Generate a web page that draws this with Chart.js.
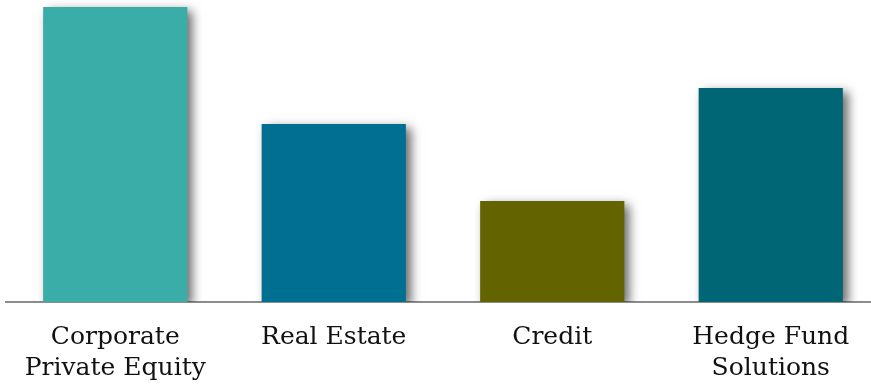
<!DOCTYPE html>
<html>
<head>
<meta charset="utf-8">
<script src="https://cdn.jsdelivr.net/npm/chart.js@4/dist/chart.umd.min.js"></script>
<style>
  html, body { margin: 0; padding: 0; background: #fff; overflow: hidden; }
  #wrap { position: relative; width: 880px; height: 388px; }
</style>
</head>
<body>
<div id="wrap"><canvas id="strategyChart"></canvas></div>
<script>
const categories = [
  ["Corporate", "Private Equity"],
  ["Real Estate"],
  ["Credit"],
  ["Hedge Fund", "Solutions"]
];
const values = [29.5, 17.8, 10.1, 21.4];
const barColors = ["#3aada9", "#006f92", "#636300", "#006675"];

// soft drop shadow behind the bars
const barShadow = {
  id: "barShadow",
  beforeDatasetsDraw(chart) {
    const ctx = chart.ctx;
    ctx.save();
    ctx.shadowColor = "rgba(0, 0, 0, 0.6)";
    ctx.shadowBlur = 10;
    ctx.shadowOffsetX = 5;
    ctx.shadowOffsetY = 4;
  },
  afterDatasetsDraw(chart) {
    chart.ctx.restore();
  }
};

const ctx = document.getElementById("strategyChart").getContext("2d");

new Chart(ctx, {
  type: "bar",
  data: {
    labels: categories,
    datasets: [
      {
        data: values,
        backgroundColor: barColors,
        borderWidth: 0,
        barPercentage: 0.66,
        categoryPercentage: 1
      }
    ]
  },
  options: {
    responsive: true,
    maintainAspectRatio: false,
    animation: false,
    layout: { padding: { left: 6, right: 0, top: 0, bottom: 0 } },
    plugins: {
      legend: { display: false },
      tooltip: { enabled: false }
    },
    scales: {
      x: {
        grid: { display: false, drawTicks: false },
        border: { display: true, color: "#8c8c8c", width: 2 },
        ticks: {
          color: "#111",
          padding: 20,
          maxRotation: 0,
          autoSkip: false,
          font: { family: "DejaVu Serif", size: 25, lineHeight: 1.24 }
        },
        afterFit(scale) {
          scale.height = 86;
        }
      },
      y: {
        display: false,
        min: 0,
        max: 30.2
      }
    }
  },
  plugins: [barShadow]
});
</script>
</body>
</html>
